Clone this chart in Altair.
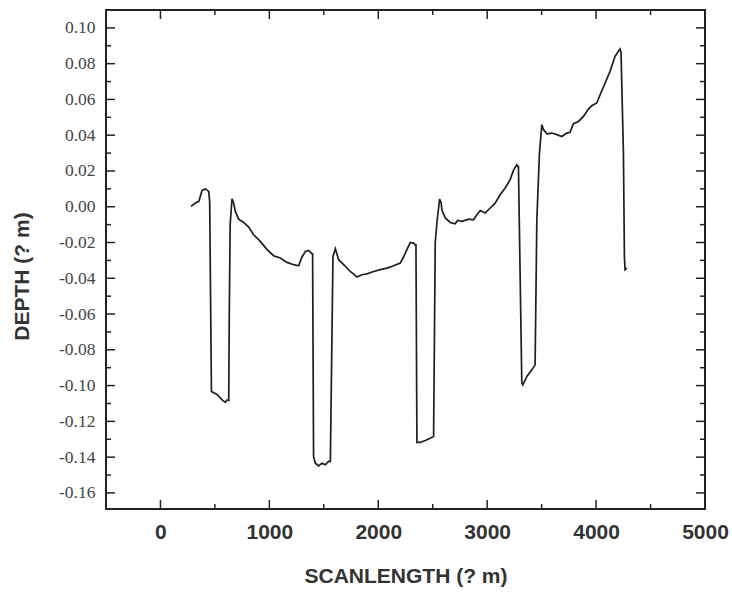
import altair as alt
import pandas as pd

# Scan profile: scan length (um) and depth (um)
scan_x = [280, 321, 352, 382, 413, 443, 452,
          468, 520, 566, 596, 612, 627,
          632, 640, 657, 672, 688, 718, 764, 810, 856, 917, 979, 1039, 1101,
          1162, 1223, 1269, 1300, 1330, 1361, 1392, 1397,
          1406, 1422, 1452, 1483, 1514, 1544, 1560,
          1584, 1606, 1636, 1682, 1743, 1805, 1850, 1896, 1957, 2018, 2080,
          2141, 2202, 2232, 2263, 2294, 2324, 2339, 2346,
          2355, 2385, 2431, 2477, 2508,
          2523, 2538, 2563, 2578, 2584, 2615, 2661, 2706, 2728, 2768, 2829,
          2875, 2905, 2936, 2982, 3028, 3073, 3119, 3165, 3211, 3241, 3272,
          3281, 3287,
          3318, 3327, 3364, 3410, 3440,
          3456, 3480, 3502, 3517, 3548, 3594, 3640, 3685, 3731, 3761, 3792,
          3838, 3884, 3929, 3960, 4006, 4037, 4083, 4128, 4174, 4205, 4220,
          4229, 4251, 4260, 4266, 4282]
depth_y = [0.0002, 0.0021, 0.0030, 0.0091, 0.0099, 0.0086, 0.0030,
           -0.1033, -0.1050, -0.1080, -0.1094, -0.1080, -0.1083,
           -0.0600, -0.0100, 0.0045, 0.0020, -0.0026, -0.0069, -0.0088,
           -0.0114, -0.0157, -0.0194, -0.0240, -0.0274, -0.0287,
           -0.0311, -0.0324, -0.0330, -0.0281, -0.0250, -0.0244, -0.0263, -0.0263,
           -0.1397, -0.1434, -0.1449, -0.1434, -0.1443, -0.1424, -0.1424,
           -0.0278, -0.0235, -0.0296, -0.0324, -0.0362, -0.0393, -0.0380,
           -0.0375, -0.0362, -0.0352, -0.0343,
           -0.0330, -0.0315, -0.0281, -0.0240, -0.0200, -0.0203, -0.0213, -0.0213,
           -0.1318, -0.1318, -0.1307, -0.1294, -0.1285,
           -0.0203, -0.0091, 0.0043, 0.0020, -0.0017, -0.0063, -0.0088,
           -0.0095, -0.0077, -0.0082, -0.0069,
           -0.0073, -0.0045, -0.0021, -0.0035, -0.0007, 0.0020, 0.0067,
           0.0105, 0.0151, 0.0203, 0.0235,
           0.0225, 0.0225,
           -0.0986, -0.0996, -0.0949, -0.0912, -0.0884,
           -0.0073, 0.0300, 0.0459, 0.0431, 0.0408, 0.0412, 0.0403, 0.0393,
           0.0412, 0.0416, 0.0464,
           0.0477, 0.0505, 0.0546, 0.0565, 0.0580, 0.0626, 0.0692, 0.0757,
           0.0841, 0.0869, 0.0882,
           0.0863, 0.0300, -0.0278, -0.0352, -0.0343]

x_major = [0, 1000, 2000, 3000, 4000]
x_minor = [500, 1500, 2500, 3500, 4500]
x_labels = [0, 1000, 2000, 3000, 4000, 5000]
y_major = [-0.16, -0.14, -0.12, -0.10, -0.08, -0.06, -0.04, -0.02, 0.0,
           0.02, 0.04, 0.06, 0.08, 0.10]
y_minor = [-0.15, -0.13, -0.11, -0.09, -0.07, -0.05, -0.03, -0.01,
           0.01, 0.03, 0.05, 0.07, 0.09]

W, H = 599, 499
XDOM = [-500, 5000]
YDOM = [-0.169, 0.110]
XT = "SCANLENGTH (? m)"
YT = "DEPTH (? m)"

df = pd.DataFrame({"x": scan_x, "y": depth_y, "i": range(len(scan_x))})
xs = alt.Scale(domain=XDOM, nice=False, zero=False)
ys = alt.Scale(domain=YDOM, nice=False, zero=False)

ax_x = alt.Axis(values=x_labels, format="d",
                ticks=False, domain=False, grid=False,
                labelFont="Liberation Sans", labelFontWeight="bold",
                labelFontSize=21, labelColor="#333333",
                labelBaseline="alphabetic", labelPadding=29,
                labelFlush=False, labelOverlap=False,
                titleFont="Liberation Sans", titleFontWeight="bold",
                titleFontSize=21, titleColor="#333333",
                titleBaseline="alphabetic", titleY=73)
ax_y = alt.Axis(values=y_major,
                labelExpr="replace(format(datum.value, '.2f'), '\u2212', '-')",
                ticks=False, domain=False, grid=False,
                labelFont="Liberation Serif", labelFontSize=17.5,
                labelColor="#444444", labelPadding=11,
                labelOverlap=False, labelFlush=False, labelBound=False,
                titleFont="Liberation Sans", titleFontWeight="bold",
                titleFontSize=21, titleColor="#333333",
                titleAngle=-90, titleBaseline="middle",
                titleAlign="center", titleX=-84, titleY=266)

X = lambda: alt.X("x:Q", scale=xs, title=XT, axis=ax_x)
Y = lambda: alt.Y("y:Q", scale=ys, title=YT, axis=ax_y)

line = alt.Chart(df).mark_line(color="#1e1e1e", strokeWidth=1.7).encode(
    x=X(), y=Y(), order="i:Q")

tick_color = "#222222"
layers = [line]
for vals, L in [(y_major, 9), (y_minor, 5)]:
    d = pd.DataFrame({"y": vals})
    layers.append(alt.Chart(d).mark_rule(color=tick_color, strokeWidth=1.5).encode(
        y=Y(), x=alt.value(0), x2=alt.value(L)))
    layers.append(alt.Chart(d).mark_rule(color=tick_color, strokeWidth=1.5).encode(
        y=Y(), x=alt.value(W), x2=alt.value(W - L)))
for vals, L in [(x_major, 9), (x_minor, 5)]:
    d = pd.DataFrame({"x": vals})
    layers.append(alt.Chart(d).mark_rule(color=tick_color, strokeWidth=1.5).encode(
        x=X(), y=alt.value(H), y2=alt.value(H - L)))
    layers.append(alt.Chart(d).mark_rule(color=tick_color, strokeWidth=1.5).encode(
        x=X(), y=alt.value(0), y2=alt.value(L)))

chart = alt.layer(*layers).properties(
    width=W, height=H,
    autosize=alt.AutoSizeParams(type="none"),
    padding={"left": 106, "top": 10, "right": 27, "bottom": 83},
    background="white",
).configure_view(stroke="#222222", strokeWidth=2)

chart.save("out.html", embed_options={"renderer": "svg", "actions": False})
